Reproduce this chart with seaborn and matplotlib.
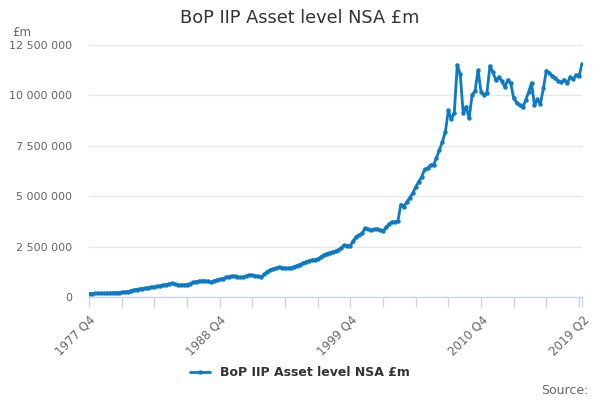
import matplotlib.pyplot as plt
import matplotlib.ticker as mticker
import numpy as np
import seaborn as sns
import pandas as pd

#-- data (£bn, quarterly from 1977 Q4 to 2019 Q2) --
start_year, start_q = 1977, 4
asset_bn = [
    0.17,                                     # 1977 Q4
    0.17, 0.18, 0.18, 0.18,                   # 1978
    0.19, 0.19, 0.20, 0.21,                   # 1979
    0.21, 0.22, 0.23, 0.25,                   # 1980
    0.27, 0.31, 0.35, 0.37,                   # 1981
    0.39, 0.42, 0.44, 0.46,                   # 1982
    0.48, 0.50, 0.53, 0.56,                   # 1983
    0.59, 0.62, 0.65, 0.67,                   # 1984
    0.64, 0.60, 0.59, 0.60,                   # 1985
    0.62, 0.66, 0.72, 0.76,                   # 1986
    0.78, 0.80, 0.81, 0.77,                   # 1987
    0.72, 0.80, 0.84, 0.87,                   # 1988
    0.91, 0.97, 1.01, 1.03,                   # 1989
    1.03, 1.00, 0.97, 0.98,                   # 1990
    1.04, 1.09, 1.07, 1.05,                   # 1991
    1.02, 0.99, 1.12, 1.26,                   # 1992
    1.33, 1.39, 1.43, 1.47,                   # 1993
    1.46, 1.43, 1.42, 1.45,                   # 1994
    1.50, 1.56, 1.61, 1.68,                   # 1995
    1.74, 1.79, 1.83, 1.85,                   # 1996
    1.89, 1.98, 2.08, 2.15,                   # 1997
    2.20, 2.24, 2.28, 2.33,                   # 1998
    2.45, 2.57, 2.55, 2.54,                   # 1999
    2.78, 3.00, 3.08, 3.16,                   # 2000
    3.42, 3.35, 3.32, 3.35,                   # 2001
    3.37, 3.32, 3.27, 3.45,                   # 2002
    3.62, 3.72, 3.74, 3.76,                   # 2003
    4.58, 4.48, 4.72, 4.92,                   # 2004
    5.15, 5.45, 5.72, 5.95,                   # 2005
    6.33, 6.38, 6.55, 6.55,                   # 2006
    6.90, 7.30, 7.70, 8.20,                   # 2007
    9.26, 8.81, 9.14, 11.51,                  # 2008
    11.05, 9.11, 9.44, 8.86,                  # 2009
    10.02, 10.23, 11.26, 10.18,               # 2010
    10.02, 10.14, 11.46, 11.15,               # 2011
    10.76, 10.90, 10.72, 10.42,               # 2012
    10.76, 10.60, 9.86, 9.64,                 # 2013
    9.52, 9.40, 9.75, 10.15,                  # 2014
    10.62, 9.50, 9.80, 9.57,                  # 2015
    10.35, 11.23, 11.12, 10.97,               # 2016
    10.85, 10.72, 10.64, 10.78,               # 2017
    10.60, 10.90, 10.80, 11.00,               # 2018
    10.95, 11.56,                             # 2019 Q1-Q2
]
series_name = 'BoP IIP Asset level NSA £m'
labelled_quarters = ['1977 Q4', '1988 Q4', '1999 Q4', '2010 Q4', '2019 Q2']

quarters = []
y, q = start_year, start_q
for _ in asset_bn:
    quarters.append(f'{y} Q{q}')
    q += 1
    if q > 4:
        q, y = 1, y + 1

df = pd.DataFrame({'idx': np.arange(len(asset_bn)),
                   'quarter': quarters,
                   'value': np.array(asset_bn) * 1e6})

sns.set_style('white')
plt.rcParams.update({'font.family': ['DejaVu Sans']})

line_col = '#0a7bc4'
axis_col = '#ccd6eb'
text_col = '#666666'

fig = plt.figure(figsize=(6, 4), dpi=100)
ax = fig.add_axes([89 / 600, 1 - 297 / 400, 493 / 600, 252 / 400])

sns.lineplot(data=df, x='idx', y='value', ax=ax, color=line_col, linewidth=2,
             marker='o', markersize=3.2, markeredgewidth=0, label=series_name)

ax.set_xlim(0, len(asset_bn) - 1)
ax.set_ylim(0, 12_500_000)
ax.yaxis.set_major_locator(mticker.MultipleLocator(2_500_000))
ax.yaxis.set_major_formatter(mticker.FuncFormatter(lambda v, p: f'{int(v):,}'.replace(',', ' ')))
ax.grid(axis='y', color='#e6e6e6', linewidth=1)
ax.set_axisbelow(True)

# ticks every 11 quarters plus the last one, label every fourth
tick_pos = list(range(0, len(asset_bn), 11)) + [len(asset_bn) - 1]
tick_lab = [quarters[t] if quarters[t] in labelled_quarters else '' for t in tick_pos]
ax.set_xticks(tick_pos)
ax.set_xticklabels(tick_lab, rotation=45, ha='right', rotation_mode='anchor')

for s in ['top', 'right', 'left']:
    ax.spines[s].set_visible(False)
ax.spines['bottom'].set_color(axis_col)
ax.spines['bottom'].set_linewidth(1)
ax.tick_params(axis='x', length=7.5, width=1, color=axis_col, labelcolor=text_col,
               labelsize=8.5, pad=4, direction='out', bottom=True)
ax.tick_params(axis='y', length=0, labelcolor=text_col, labelsize=8, pad=12)
ax.set_xlabel('')
ax.set_ylabel('')

ax.get_legend().remove()
h, l = ax.get_legend_handles_labels()
leg = fig.legend(h, l, loc='center', bbox_to_anchor=(0.5, 1 - 373 / 400), frameon=False,
                 handlelength=1.6, prop={'weight': 'bold', 'size': 9})
for t in leg.get_texts():
    t.set_color('#333333')

fig.text(0.5, 1 - 18 / 400, 'BoP IIP Asset level NSA £m', ha='center', va='center',
         fontsize=12.8, color='#333333')
fig.text(12 / 600, 1 - 32 / 400, '£m', ha='left', va='center', fontsize=8.5, color=text_col)
fig.text(589 / 600, 1 - 390 / 400, 'Source:', ha='right', va='center', fontsize=9, color=text_col)

plt.savefig('out.png', dpi=100)
